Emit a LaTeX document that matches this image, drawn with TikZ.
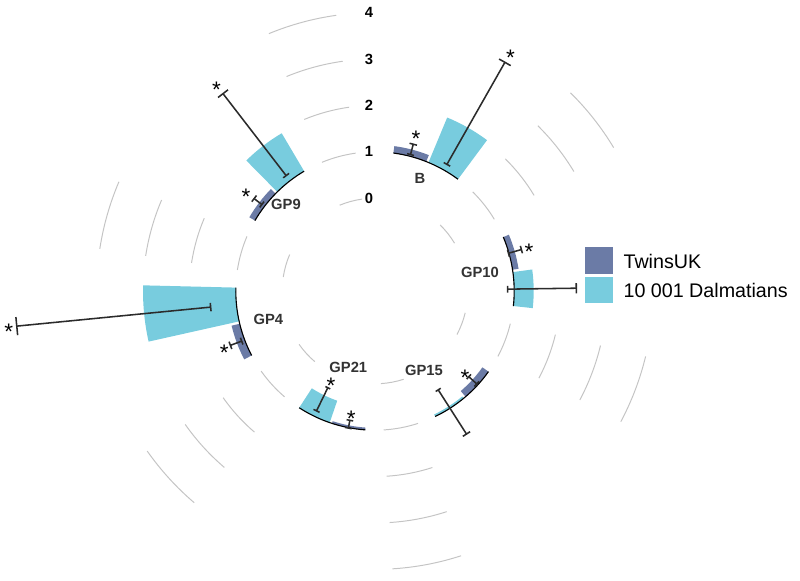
\documentclass[tikz,border=0pt]{standalone}
\usepackage{fontspec}
\setmainfont{Liberation Sans}
\definecolor{twins}{HTML}{6B7BA6}
\definecolor{dalm}{HTML}{78CCDE}
\definecolor{gridgray}{HTML}{C4C4C4}
\definecolor{errgray}{HTML}{2B2B2B}
\definecolor{labelgray}{HTML}{333333}
\newcommand{\rad}[1]{46.4*(#1+2)}
\newcommand{\polarbar}[4]{%
  \fill[#4] (#1:139.2) arc[start angle=#1, end angle=#2, radius=139.2]
    -- (#2:{\rad{#3}}) arc[start angle=#2, end angle=#1, radius={\rad{#3}}] -- cycle;}
\newcommand{\errbar}[3]{%
  \draw[errline] (#1:{\rad{#2}}) -- (#1:{\rad{#3}});
  \draw[errline] (#1-1.45:{\rad{#2}}) -- (#1+1.45:{\rad{#2}});
  \draw[errline] (#1-1.45:{\rad{#3}}) -- (#1+1.45:{\rad{#3}});}
\begin{document}
\begin{tikzpicture}[x=0.025cm, y=0.025cm,
  base/.style={line width=0.8pt, black},
  gridarc/.style={line width=0.7pt, gridgray},
  errline/.style={line width=1.1pt, errgray},
  sigmark/.style={font=\fontsize{16}{16}\selectfont, inner sep=0pt, yshift=-3.4pt},
  grplabel/.style={font=\fontsize{10.5}{12}\selectfont\bfseries, text=labelgray, inner sep=0pt},
  ticklabel/.style={font=\fontsize{10.5}{12}\selectfont\bfseries, inner sep=0pt},
  legtext/.style={font=\fontsize{14}{16}\selectfont, anchor=west, inner sep=0pt}]
\useasboundingbox (-375,-289) rectangle (425,291);

% grid in the gaps
\foreach \a in {31,98,156.9,215.1,273.6,332}
  \foreach \v in {0,...,4}
    \draw[gridarc] (\a:{\rad{\v}}) arc[start angle=\a, end angle=\a+14.4, radius={\rad{\v}}];
\foreach \v in {0,...,4}
  \node[ticklabel] (tick\v) at (-6,{\rad{\v}}) {\v};

% GP10
\polarbar{-6.2}{7.8}{1.42}{dalm}
\polarbar{8.8}{22.8}{1.13}{twins}
\draw[base] (-6.2:139.2) arc[start angle=-6.2, end angle=22.8, radius=139.2];
\errbar{0.8}{0.86}{2.34}
\errbar{15.8}{0.99}{1.28}
\node[sigmark] (sig10t) at (15.8:{\rad{1.45}}) {*};
\node[grplabel] (gp10) at (105,18.3) {GP10};

% B
\polarbar{53.4}{67.4}{2.05}{dalm}
\polarbar{68.4}{82.4}{1.15}{twins}
\draw[base] (53.4:139.2) arc[start angle=53.4, end angle=82.4, radius=139.2];
\errbar{60.4}{1.14}{3.67}
\errbar{75.4}{1.04}{1.27}
\node[sigmark] (sigBd) at (60.4:{\rad{3.91}}) {*};
\node[sigmark] (sigBt) at (75.4:{\rad{1.5}}) {*};
\node[grplabel] (gpB) at (45,112.7) {B};

% GP9
\polarbar{120.6}{134.6}{1.95}{dalm}
\polarbar{135.6}{149.6}{1.14}{twins}
\draw[base] (120.6:139.2) arc[start angle=120.6, end angle=149.6, radius=139.2];
\errbar{127.6}{1.14}{3.37}
\errbar{142.6}{1.07}{1.28}
\node[sigmark] (sig9d) at (127.6:{\rad{3.6}}) {*};
\node[sigmark] (sig9t) at (142.6:{\rad{1.5}}) {*};
\node[grplabel] (gp9) at (-89,87) {GP9};

% GP4
\polarbar{178.6}{192.6}{3.0}{dalm}
\polarbar{193.6}{207.6}{1.18}{twins}
\draw[base] (178.6:139.2) arc[start angle=178.6, end angle=207.6, radius=139.2];
\errbar{185.6}{1.56}{5.76}
\errbar{200.6}{1.07}{1.33}
\node[sigmark] (sig4d) at (185.6:{\rad{5.93}}) {*};
\node[sigmark] (sig4t) at (200.6:{\rad{1.47}}) {*};
\node[grplabel] (gp4) at (-106.7,-28.3) {GP4};

% GP21
\polarbar{237}{251}{0.5}{dalm}
\polarbar{252}{266}{0.95}{twins}
\draw[base] (237:139.2) arc[start angle=237, end angle=266, radius=139.2];
\errbar{244}{0.875}{0.32}
\errbar{259}{1.01}{0.84}
\node[sigmark] (sig21d) at (244:{\rad{0.16}}) {*};
\node[sigmark] (sig21t) at (259:{\rad{0.69}}) {*};
\node[grplabel] (gp21) at (-26.7,-76.3) {GP21};

% GP15
\polarbar{295.6}{309.6}{0.95}{dalm}
\polarbar{310.6}{324.6}{0.84}{twins}
\draw[base] (295.6:139.2) arc[start angle=295.6, end angle=324.6, radius=139.2];
\errbar{302.6}{0.53}{1.66}
\errbar{317.6}{0.97}{0.74}
\node[sigmark] (sig15t) at (317.6:{\rad{0.63}}) {*};
\node[grplabel] (gp15) at (49,-79) {GP15};

% legend
\fill[twins] (210,17) rectangle (237.7,43.7);
\fill[dalm] (210,-11.7) rectangle (237.7,14.3);
\node[legtext] (legTwins) at (248.3,29.8) {TwinsUK};
\node[legtext] (legDalm) at (248.3,1) {10 001 Dalmatians};
\end{tikzpicture}
\end{document}
